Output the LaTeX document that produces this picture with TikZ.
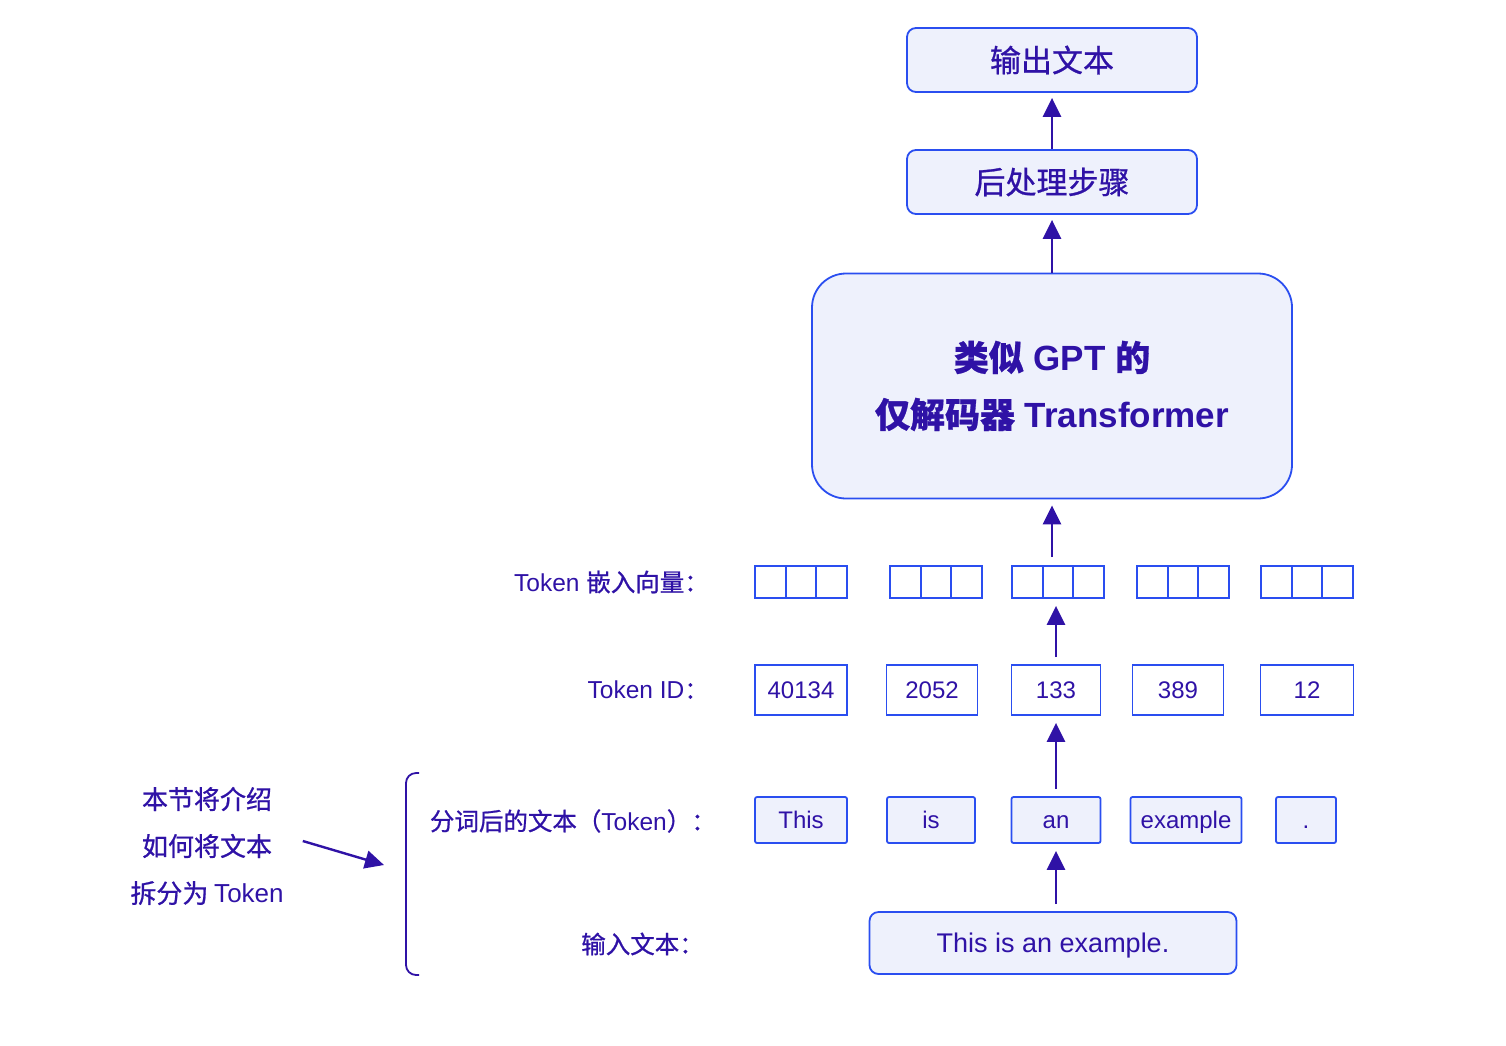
\documentclass[tikz,border=0pt]{standalone}
\usepackage{fontspec}
\setmainfont{Liberation Sans}
\newfontfamily\cjk{Noto Sans CJK SC}[RawFeature={embolden=0.8}]
\usetikzlibrary{arrows.meta, positioning}
\definecolor{inkc}{RGB}{47,18,166}
\definecolor{edgec}{RGB}{42,78,240}
\definecolor{boxfill}{RGB}{238,241,252}

\begin{document}
\begin{tikzpicture}[x=1pt, y=-1pt,
  box/.style={draw=edgec, line width=1.8pt, fill=boxfill, rounded corners=9pt, text=inkc, inner sep=0pt},
  cellbox/.style={draw=edgec, line width=1.8pt, fill=white, minimum width=92pt, minimum height=32pt, inner sep=0pt},
  idbox/.style={draw=edgec, line width=1.8pt, fill=white, text=inkc, minimum height=50pt, inner sep=0pt,
                text height=17pt, text depth=0pt, font=\fontsize{24}{28}\selectfont},
  tokbox/.style={box, rounded corners=2pt, minimum height=46pt, text height=17pt, text depth=0pt,
                 font=\fontsize{24}{28}\selectfont},
  lab/.style={text=inkc, anchor=east, inner sep=0pt, font=\fontsize{24.5}{28}\selectfont},
  flow/.style={draw=inkc, line width=2.6pt, -{Triangle[length=19pt, width=18pt]}},
]
\useasboundingbox (0,0) rectangle (1506,1045);

% Output side, top of the stack
\node[box, minimum width=290pt, minimum height=64pt, font=\cjk\fontsize{31}{36}\selectfont] (out) at (1052,60) {输出文本};
\node[box, minimum width=290pt, minimum height=64pt, font=\cjk\fontsize{31}{36}\selectfont] (post) at (1052,182) {后处理步骤};

% The model itself
\node[box, rounded corners=34pt, minimum width=480pt, minimum height=225pt, align=center,
      font=\bfseries\fontsize{35}{57}\selectfont] (gpt) at (1052,386)
      {{\cjk 类似} GPT {\cjk 的}\\{\cjk 仅解码器} Transformer};

% Token embeddings, three cells each
\foreach \name/\xx in {e1/801, e2/936, e3/1058, e4/1183, e5/1307}
{
    \node[cellbox] (\name) at (\xx,582) {};
    \draw[edgec, line width=1.8pt] ([xshift=-15.3pt]\name.north) -- ([xshift=-15.3pt]\name.south);
    \draw[edgec, line width=1.8pt] ([xshift=15.3pt]\name.north) -- ([xshift=15.3pt]\name.south);
}

% Token IDs
\foreach \name/\xx/\ww/\txt in {i1/801/92/40134, i2/932/91/2052, i3/1056/89/133, i4/1178/91/389, i5/1307/93/12}
{
    \node[idbox, minimum width=\ww pt] (\name) at (\xx,690) {\txt};
}

% Tokenized text
\foreach \name/\xx/\ww/\txt in {t1/801/92/This, t2/931/88/is, t3/1056/89/an, t4/1186/111/example, t5/1306/60/.}
{
    \node[tokbox, minimum width=\ww pt] (\name) at (\xx,820) {\txt};
}

% Input text
\node[box, minimum width=367pt, minimum height=62pt, text height=19.5pt, text depth=0pt,
      font=\fontsize{27}{32}\selectfont] (inp) at (1053,943) {This is an example.};

% Row labels
\node[lab] (lemb) at (709,582) {Token {\cjk 嵌入向量：}};
\node[lab] (lid) at (709,690) {Token ID{\cjk ：}};
\node[lab] (ltok) at (716,821) {{\cjk 分词后的文本（}Token{\cjk ）：}};
\node[lab] (linp) at (704,944) {{\cjk 输入文本：}};

% Upward flow
\draw[flow, shorten <=7pt, shorten >=7pt] (inp.north -| t3) -- (t3.south);
\draw[flow, shorten <=7pt, shorten >=7pt] (t3.north) -- (i3.south -| t3);
\draw[flow, shorten <=7pt, shorten >=7pt] (i3.north) -- (e3.south -| i3);
\draw[flow, shorten <=8pt, shorten >=6pt] (e3.north -| gpt) -- (gpt.south);
\draw[flow, shorten >=5pt] (gpt.north) -- (post.south);
\draw[flow, shorten >=5pt] (post.north) -- (out.south);

% Side note and bracket
\node[text=inkc, align=center, inner sep=0pt, font=\cjk\fontsize{26}{47}\selectfont] (note) at (207,846)
     {本节将介绍\\如何将文本\\拆分为 {\fontspec{Liberation Sans}Token}};
\draw[inkc, line width=1.8pt, rounded corners=10pt] (419,773) -- (406,773) -- (406,975) -- (419,975);
\coordinate (brk) at (384,865);
\draw[flow, line width=2.4pt] ([xshift=19pt,yshift=5pt]note.east) -- (brk);

\end{tikzpicture}
\end{document}
